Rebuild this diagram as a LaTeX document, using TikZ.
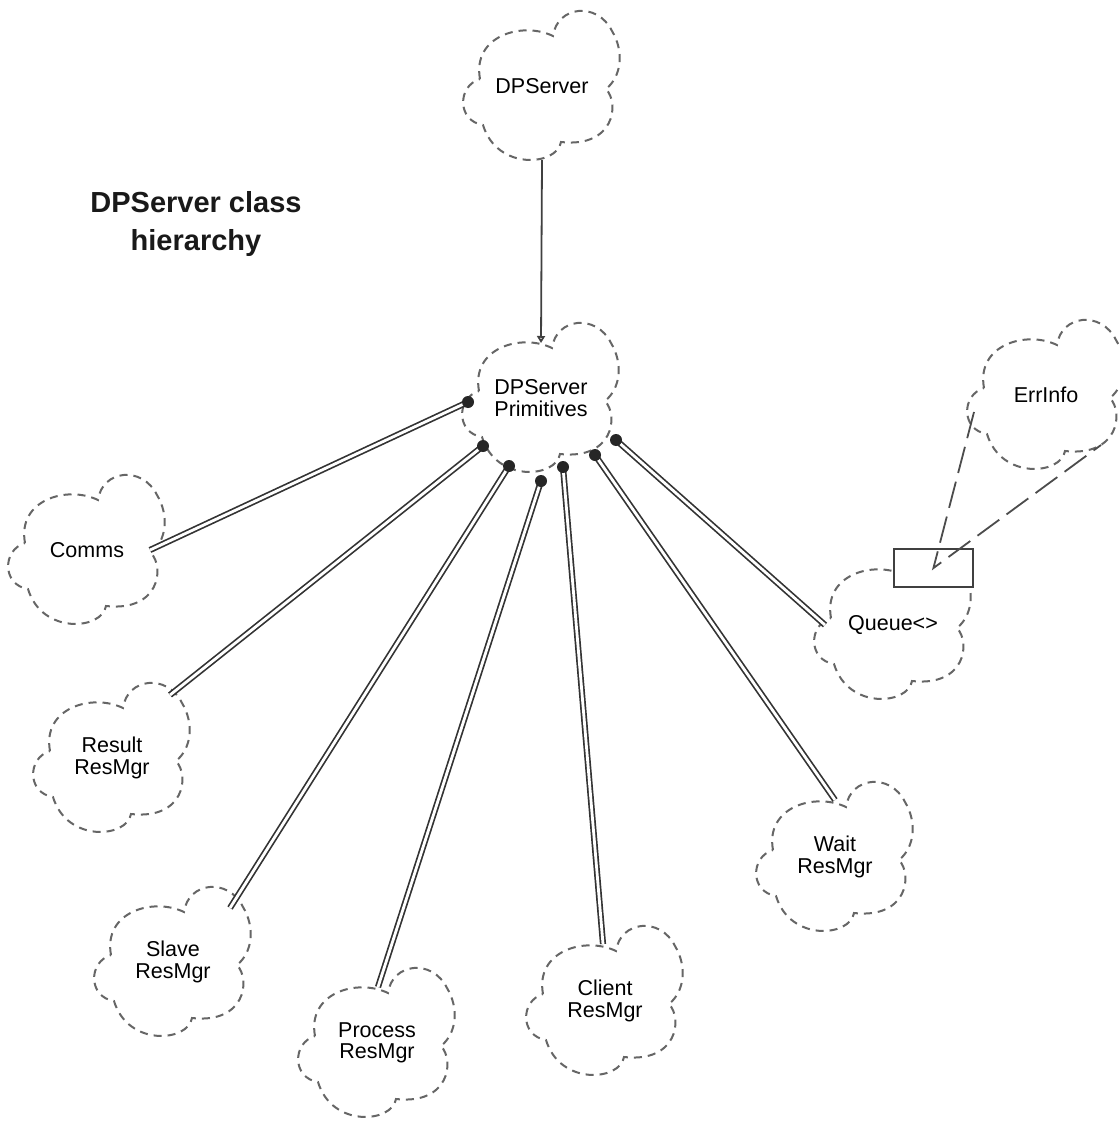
\documentclass[tikz,border=0pt]{standalone}
\usepackage{fontspec}
\setmainfont{Liberation Sans}
\usetikzlibrary{calc,arrows.meta}

\tikzset{
  cloudline/.style={draw=black!60, line width=2pt, dash pattern=on 8pt off 6pt},
  cls/.style={align=center, font=\fontsize{21.5}{21.5}\selectfont, text=black, inner sep=0pt},
  has/.style={draw=black!80, line width=1.7pt, double=white, double distance=2.8pt},
  hasdot/.style={fill=black!85},
  inherit/.style={draw=black!75, line width=1.8pt, -{Triangle[open, width=8pt, length=7pt]}},
  inst/.style={draw=black!70, line width=1.8pt, dash pattern=on 27pt off 9pt},
  parambox/.style={draw=black!75, line width=1.8pt, fill=white, inner sep=0pt,
    minimum width=79pt, minimum height=38pt, anchor=south west},
  % Booch-style class cloud around a point
  cloudpic/.pic={
    \path[cloudline] (-62,7)
      .. controls (-70,50) and (-20,65) .. (11,50)
      .. controls (15,80) and (55,85) .. (70,55)
      .. controls (82,35) and (80,10) .. (64,-3)
      .. controls (78,-18) and (72,-62) .. (19,-56)
      .. controls (15,-80) and (-45,-85) .. (-59,-39)
      .. controls (-85,-35) and (-85,0) .. cycle;
  }
}

\begin{document}
\begin{tikzpicture}[x=1pt,y=1pt]
\useasboundingbox (0,0) rectangle (1118,-1126);
\fill[white] (0,0) rectangle (1118,-1126);

% title
\node[font=\bfseries\fontsize{29}{38}\selectfont, align=center, text=black!90] (title)
  at (196,-224) {DPServer class\\hierarchy};

% classes
\node[cls] (dps)    at (542,-86)   {DPServer};
\node[cls] (prim)   at (541,-398)  {DPServer\\Primitives};
\node[cls] (comms)  at (87,-550)   {Comms};
\node[cls] (res)    at (112,-758)  {Result\\ResMgr};
\node[cls] (slave)  at (173,-962)  {Slave\\ResMgr};
\node[cls] (proc)   at (377,-1043) {Process\\ResMgr};
\node[cls] (client) at (605,-1001) {Client\\ResMgr};
\node[cls] (wait)   at (835,-857)  {Wait\\ResMgr};
\node[cls] (queue)  at (893,-625)  {Queue<>};
\node[cls] (err)    at (1046,-395) {ErrInfo};

\foreach \c in {dps,prim,comms,res,slave,proc,client,wait,queue,err}
  \pic at (\c) {cloudpic};

% inheritance
\draw[inherit] ($(dps)+(0,-74)$) -- ($(prim)+(0,55)$);

% has relationships
\foreach \a/\b/\t in {-73/-4/comms, -58/-48/res, -32/-68/slave, 0/-83/proc,
                      22/-69/client, 54/-57/wait, 75/-42/queue}{
  \coordinate (s-\t) at ($(prim)+(\a,\b)$);
}
\coordinate (e-comms)  at ($(comms)+(63,0)$);
\coordinate (e-res)    at ($(res)+(58,63)$);
\coordinate (e-slave)  at ($(slave)+(57,54)$);
\coordinate (e-proc)   at ($(proc)+(1,56)$);
\coordinate (e-client) at ($(client)+(-2,57)$);
\coordinate (e-wait)   at ($(wait)+(0,57)$);
\coordinate (e-queue)  at ($(queue)+(-68,0)$);
\foreach \t in {comms,res,slave,proc,client,wait,queue}{
  \draw[has] (s-\t) -- (e-\t);
  \fill[hasdot] (s-\t) circle (6);
}

% parameterised class instantiation
\node[parambox] (qparam) at ($(queue)+(0,37)$) {};
\draw[inst] ($(err)+(-72,-17)$) -- (qparam.center) -- ($(err)+(55,-50)$);
\end{tikzpicture}
\end{document}
